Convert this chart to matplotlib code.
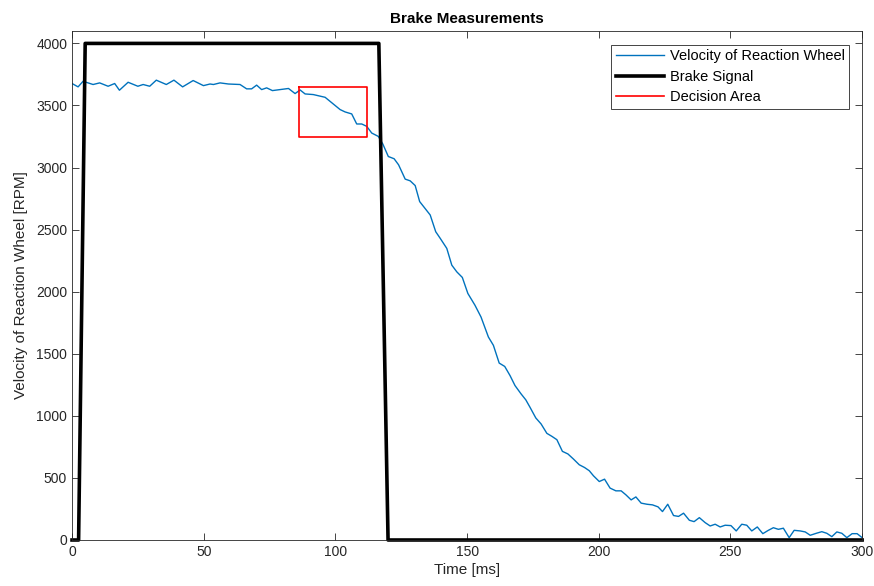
import matplotlib.pyplot as plt

plt.rcParams['font.family'] = ['Liberation Sans', 'DejaVu Sans']

# velocity of reaction wheel
t_ms = [0, 2.3, 4.2, 8, 10.5, 13.7, 16.2, 18, 21.3, 25, 27, 29.5, 32, 35.8, 38.7,
        42, 46, 49.9, 52.4, 53.7, 56.2, 59.4, 63.8, 66.3, 68.2, 70.1, 72, 73.9,
        76.1, 79, 82.2, 84.7, 86.6, 88.5, 91.6, 96.1, 99.2, 101.8, 103.7, 106.2,
        108.1, 110, 111.9, 113.8, 116.3, 118, 120.1, 122.3, 124, 126.5, 128.4,
        130.3, 132, 133, 136, 138.1, 139.8, 142.3, 144.2, 146.1, 148.2, 150.3,
        153, 155.3, 158.1, 160, 162.2, 164.3, 166.3, 168.2, 170.5, 172.3, 173.9,
        176.1, 178.1, 180.3, 182.2, 184.1, 186.2, 188.3, 190.4, 192.6, 194.6,
        196.4, 198, 200.2, 202.2, 204.3, 206.5, 208.5, 210.3, 212.3, 214.1,
        216.1, 218.3, 220.4, 222.5, 224.2, 226.2, 228.4, 230.3, 232.2, 234.4,
        236.2, 238.2, 240.4, 242.3, 244.2, 246.1, 248, 250.2, 252.2, 254.3,
        256.2, 258.1, 260.2, 262.3, 264.4, 266.3, 268.2, 270.1, 272.3, 274.2,
        276.5, 278.4, 280.3, 282.6, 284.7, 286.6, 288.5, 290.4, 292.3, 294.2,
        296.2, 298.1, 300]
rpm = [3677, 3650, 3695, 3669, 3682, 3655, 3677, 3623, 3687, 3655, 3669, 3655,
       3704, 3669, 3704, 3650, 3701, 3660, 3673, 3669, 3682, 3673, 3669, 3634,
       3634, 3664, 3628, 3642, 3620, 3628, 3637, 3596, 3625, 3593, 3588, 3566,
       3512, 3467, 3448, 3432, 3351, 3351, 3332, 3278, 3251, 3190, 3089, 3071,
       3022, 2907, 2893, 2855, 2726, 2699, 2618, 2483, 2430, 2349, 2214, 2160,
       2115, 1986, 1891, 1796, 1635, 1568, 1425, 1398, 1325, 1244, 1177, 1129,
       1069, 983, 935, 859, 835, 808, 714, 693, 652, 606, 584, 558, 517, 471,
       490, 418, 396, 396, 364, 323, 347, 297, 288, 283, 267, 229, 288, 197,
       190, 216, 159, 148, 180, 140, 113, 127, 105, 119, 116, 73, 127, 119, 73,
       105, 51, 78, 99, 86, 95, 19, 78, 73, 65, 38, 54, 67, 54, 27, 65, 54, 19,
       51, 51, 19]

# brake signal
brake_t = [0, 2.5, 5, 116.5, 120, 300]
brake_v = [0, 0, 4000, 4000, 0, 0]

# decision area rectangle
area_t = [86, 112, 112, 86, 86]
area_v = [3650, 3650, 3250, 3250, 3650]

fig = plt.figure(figsize=(8.74, 5.86), dpi=100)
ax = fig.add_axes([0.0824, 0.0785, 0.904, 0.8686])

ax.plot(t_ms, rpm, color='#0072BD', linewidth=1.0, label='Velocity of Reaction Wheel')
ax.plot(brake_t, brake_v, color='black', linewidth=2.6, label='Brake Signal', clip_on=False)
ax.plot(area_t, area_v, color='#FF0000', linewidth=1.2, label='Decision Area')

ax.set_xlim(0, 300)
ax.set_ylim(0, 4100)
ax.set_xticks(range(0, 301, 50))
ax.set_yticks(range(0, 4001, 500))

ax.tick_params(direction='in', top=True, right=True, length=5, width=0.6,
               labelsize=10, colors='#262626')
for s in ax.spines.values():
    s.set_color('#262626')
    s.set_linewidth(0.6)

ax.set_title('Brake Measurements', fontsize=11, fontweight='bold', pad=6)
ax.set_xlabel('Time [ms]', fontsize=11, color='#262626', labelpad=3)
ax.set_ylabel('Velocity of Reaction Wheel [RPM]', fontsize=11, color='#262626', labelpad=6)

leg = ax.legend(loc='upper right', fontsize=10.5, handlelength=3.3, borderpad=0.3,
                labelspacing=0.45, handletextpad=0.4, fancybox=False,
                edgecolor='#262626', framealpha=1, borderaxespad=0,
                bbox_to_anchor=(0.9835, 0.9725))
leg.get_frame().set_linewidth(0.6)

fig.savefig('out.png', dpi=100)
